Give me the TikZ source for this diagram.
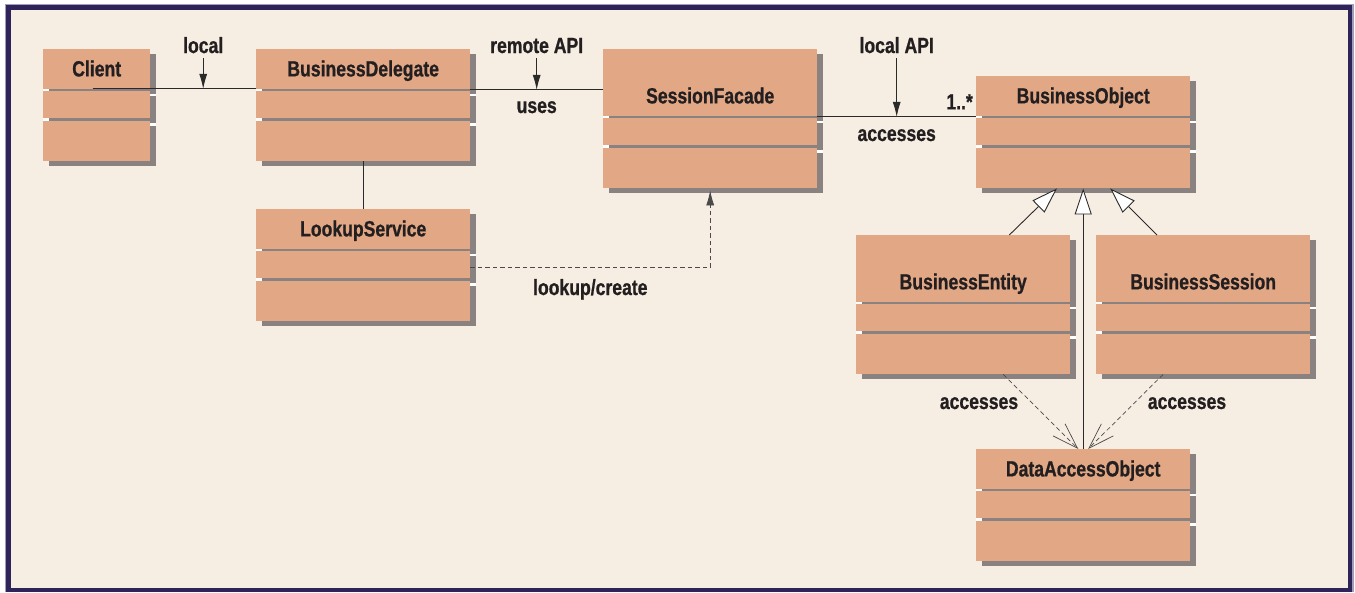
\documentclass[tikz,border=0pt]{standalone}
\usepackage{fontspec}
\setmainfont{Liberation Sans}[FakeStretch=0.8, BoldFeatures={FakeBold=0.8}]
\usetikzlibrary{arrows.meta,calc}

\definecolor{framec}{HTML}{2F2459}
\definecolor{framelt}{HTML}{A39DBA}
\definecolor{paper}{HTML}{F7EEE3}
\definecolor{boxc}{HTML}{E2A885}
\definecolor{shadowc}{HTML}{8A8280}
\definecolor{txt}{HTML}{231F20}
\definecolor{linec}{HTML}{2A2A2A}
\definecolor{dashc}{HTML}{4A4A4A}

\tikzset{
  comp/.style={rectangle, fill=boxc, draw=none, inner sep=0pt, anchor=north west},
  cls/.style={font=\bfseries\fontsize{22}{24}\selectfont, text=txt, inner sep=0pt, anchor=base},
  lbl/.style={font=\bfseries\fontsize{22}{24}\selectfont, text=txt, inner sep=0pt, anchor=base},
  conn/.style={draw=linec, line width=0.9pt},
  dconn/.style={draw=dashc, line width=0.8pt, dash pattern=on 4.5pt off 3pt},
  arr/.style={-{Latex[length=15pt,width=8pt]}},
  gen/.style={-{Triangle[length=26pt,width=17pt,fill=white]}},
  dep/.style={-{Straight Barb[length=26pt,width=17pt]}},
}

% A UML class: three stacked compartments with a drop shadow.
% #1 name, #2 left, #3 top, #4 width, #5 height of the name compartment, #6 class name
\newcommand{\umlclass}[6]{%
  % white seams between the compartments
  \fill[white] (#2,#3+#5) rectangle (#2+#4+6,#3+#5+7.5);
  \fill[white] (#2,#3+#5+29.5) rectangle (#2+#4+6,#3+#5+37);
  % shadows
  \fill[shadowc] (#2+6,#3+5) rectangle ++(#4,#5);
  \fill[shadowc] (#2+6,#3+#5+2.5+5) rectangle ++(#4,27);
  \fill[shadowc] (#2+6,#3+#5+32+5) rectangle ++(#4,40.5);
  % compartments
  \node[comp, minimum width=#4pt, minimum height=#5pt] (#1-1) at (#2,#3) {};
  \node[comp, minimum width=#4pt, minimum height=27pt] (#1-2) at (#2,#3+#5+2.5) {};
  \node[comp, minimum width=#4pt, minimum height=40.5pt] (#1-3) at (#2,#3+#5+32) {};
  \node[cls] (#1-t) at ([yshift=12.5pt]#1-1.south) {#6};
}

\begin{document}
\begin{tikzpicture}[x=1pt,y=-1pt]
  \useasboundingbox (0,0) rectangle (1355,592);
  % frame and paper
  \fill[white] (0,0) rectangle (1355,592);
  \fill[framelt] (5,4) rectangle (1353.5,592);
  \fill[framec] (6,5) rectangle (1352,592);
  \fill[paper] (11,10) rectangle (1347.5,588);

  % classes
  \umlclass{client}{43}{49}{107}{39.5}{Client}
  \umlclass{bd}{256}{49}{214}{39.5}{BusinessDelegate}
  \umlclass{sf}{603}{49}{214}{66.5}{SessionFacade}
  \umlclass{bo}{976}{76}{214}{39.5}{BusinessObject}
  \umlclass{ls}{256}{209}{214}{39.5}{LookupService}
  \umlclass{be}{856}{235}{214}{66.5}{BusinessEntity}
  \umlclass{bs}{1096}{235}{214}{66.5}{BusinessSession}
  \umlclass{dao}{976}{449}{214}{39.5}{DataAccessObject}

  % Client -- BusinessDelegate (local)
  \draw[conn] ([xshift=-4pt]client-1.south) -- (bd-1.south west);
  \coordinate (m1) at ($(client-1.south east)!0.5!(bd-1.south west)$);
  \node[lbl] (l-local) at (m1 |- 0,53) {local};
  \draw[conn, arr, shorten <=5pt] (l-local.south) -- (m1);

  % BusinessDelegate -- SessionFacade (remote API, uses)
  \coordinate (sfin) at ([yshift=-1pt]bd-1.south east -| sf-1.west);
  \draw[conn] ([yshift=-1pt]bd-1.south east) -- (sfin);
  \coordinate (m2) at ($([yshift=-1pt]bd-1.south east)!0.5!(sfin)$);
  \node[lbl] (l-remote) at (m2 |- 0,53) {remote API};
  \node[lbl] (l-uses) at (m2 |- 0,113) {uses};
  \draw[conn, arr, shorten <=5pt] (l-remote.south) -- (m2);

  % SessionFacade -- BusinessObject (local API, accesses, 1..*)
  \draw[conn] ([yshift=-1pt]sf-1.south east) -- ([yshift=-1pt]bo-1.south west);
  \coordinate (m3) at ($([yshift=-1pt]sf-1.south east)!0.5!([yshift=-1pt]bo-1.south west)$);
  \node[lbl] (l-localapi) at (m3 |- 0,53) {local API};
  \node[lbl] (l-acc1) at (m3 |- 0,141) {accesses};
  \node[lbl, anchor=base east] (l-mult) at ([xshift=-3pt,yshift=6.5pt]bo-1.south west) {1..*};
  \draw[conn, arr, shorten <=5pt] (l-localapi.south) -- (m3);

  % BusinessDelegate -- LookupService
  \draw[conn] (bd-3.south) -- (ls-1.north);

  % LookupService - - > SessionFacade (lookup/create)
  \draw[dconn, arr] ([yshift=-3pt]ls-2.east) -| ([yshift=-2pt]sf-3.south);
  \coordinate (m4) at ($(ls-2.east)!0.5!(ls-2.east -| sf-3.south)$);
  \node[lbl] (l-lookup) at (m4 |- 0,295) {lookup/create};

  % generalisations to BusinessObject
  \draw[conn, gen] ($(be-1.north west)!0.715!(be-1.north east)$) -- ($(bo-3.south west)!0.378!(bo-3.south east)$);
  \draw[conn, gen] (dao-1.north) -- (bo-3.south);
  \draw[conn, gen] ($(bs-1.north west)!0.285!(bs-1.north east)$) -- ($(bo-3.south west)!0.626!(bo-3.south east)$);

  % dependencies on DataAccessObject
  \draw[dconn, line width=0.7pt, dep] ($(be-3.south west)!0.687!(be-3.south east)$) -- ($(dao-1.north west)!0.477!(dao-1.north east)$);
  \draw[dconn, line width=0.7pt, dep] ($(bs-3.south west)!0.313!(bs-3.south east)$) -- ($(dao-1.north west)!0.523!(dao-1.north east)$);
  \node[lbl] (l-acc2) at (979,409) {accesses};
  \node[lbl] (l-acc3) at (1187,409) {accesses};
\end{tikzpicture}
\end{document}
